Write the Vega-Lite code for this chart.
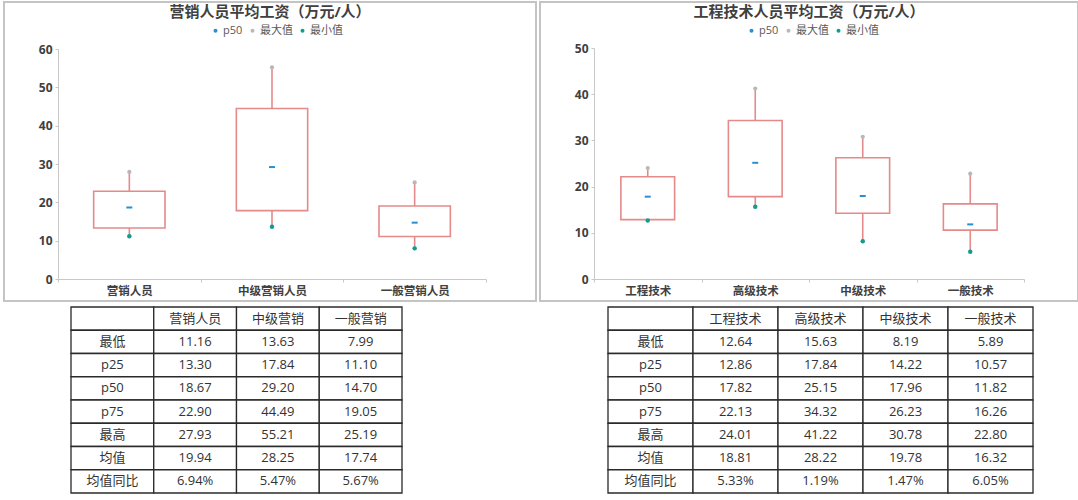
{
  "$schema": "https://vega.github.io/schema/vega-lite/v6.json",
  "padding": {"left": 3, "top": 1, "right": 0, "bottom": 0},
  "background": "white",
  "config": {
    "font": "Open Sans, Noto Sans CJK SC",
    "axis": {"grid": false, "title": null, "domainColor": "#c8c8c8", "tickColor": "#c8c8c8", "tickSize": 3, "labelColor": "#404040", "labelFontWeight": "bold"},
    "axisY": {"labelFontSize": 12, "labelPadding": 3},
    "axisX": {"labelFontSize": 11.5, "labelPadding": 3, "labelAngle": 0, "tickBand": "extent"},
    "legend": {"orient": "none", "direction": "horizontal", "title": null, "symbolType": "circle", "symbolSize": 16, "labelFontSize": 11, "labelColor": "#595959", "columnPadding": 4, "labelOffset": 2}
  },
  "datasets": {
    "mkt": [
      {"cat": "营销人员", "min": 11.16, "p25": 13.30, "p50": 18.67, "p75": 22.90, "max": 27.93},
      {"cat": "中级营销人员", "min": 13.63, "p25": 17.84, "p50": 29.20, "p75": 44.49, "max": 55.21},
      {"cat": "一般营销人员", "min": 7.99, "p25": 11.10, "p50": 14.70, "p75": 19.05, "max": 25.19}
    ],
    "eng": [
      {"cat": "工程技术", "min": 12.64, "p25": 12.86, "p50": 17.82, "p75": 22.13, "max": 24.01},
      {"cat": "高级技术", "min": 15.63, "p25": 17.84, "p50": 25.15, "p75": 34.32, "max": 41.22},
      {"cat": "中级技术", "min": 8.19, "p25": 14.22, "p50": 17.96, "p75": 26.23, "max": 30.78},
      {"cat": "一般技术", "min": 5.89, "p25": 10.57, "p50": 11.82, "p75": 16.26, "max": 22.80}
    ],
    "mktTable": [
      {"row": "表头", "项目": "", "营销人员": "营销人员", "中级营销": "中级营销", "一般营销": "一般营销"},
      {"row": "最低", "项目": "最低", "营销人员": "11.16", "中级营销": "13.63", "一般营销": "7.99"},
      {"row": "p25", "项目": "p25", "营销人员": "13.30", "中级营销": "17.84", "一般营销": "11.10"},
      {"row": "p50", "项目": "p50", "营销人员": "18.67", "中级营销": "29.20", "一般营销": "14.70"},
      {"row": "p75", "项目": "p75", "营销人员": "22.90", "中级营销": "44.49", "一般营销": "19.05"},
      {"row": "最高", "项目": "最高", "营销人员": "27.93", "中级营销": "55.21", "一般营销": "25.19"},
      {"row": "均值", "项目": "均值", "营销人员": "19.94", "中级营销": "28.25", "一般营销": "17.74"},
      {"row": "均值同比", "项目": "均值同比", "营销人员": "6.94%", "中级营销": "5.47%", "一般营销": "5.67%"}
    ],
    "engTable": [
      {"row": "表头", "项目": "", "工程技术": "工程技术", "高级技术": "高级技术", "中级技术": "中级技术", "一般技术": "一般技术"},
      {"row": "最低", "项目": "最低", "工程技术": "12.64", "高级技术": "15.63", "中级技术": "8.19", "一般技术": "5.89"},
      {"row": "p25", "项目": "p25", "工程技术": "12.86", "高级技术": "17.84", "中级技术": "14.22", "一般技术": "10.57"},
      {"row": "p50", "项目": "p50", "工程技术": "17.82", "高级技术": "25.15", "中级技术": "17.96", "一般技术": "11.82"},
      {"row": "p75", "项目": "p75", "工程技术": "22.13", "高级技术": "34.32", "中级技术": "26.23", "一般技术": "16.26"},
      {"row": "最高", "项目": "最高", "工程技术": "24.01", "高级技术": "41.22", "中级技术": "30.78", "一般技术": "22.80"},
      {"row": "均值", "项目": "均值", "工程技术": "18.81", "高级技术": "28.22", "中级技术": "19.78", "一般技术": "16.32"},
      {"row": "均值同比", "项目": "均值同比", "工程技术": "5.33%", "高级技术": "1.19%", "中级技术": "1.47%", "一般技术": "6.05%"}
    ]
  },
  "spacing": 4,
  "vconcat": [
    {
      "bounds": "flush",
      "spacing": 4,
      "resolve": {"scale": {"color": "independent"}, "legend": {"color": "independent"}},
      "hconcat": [
        {
          "width": 532,
          "height": 299,
          "view": {"stroke": "#c4c4c4", "strokeWidth": 2},
          "title": {"text": "营销人员平均工资（万元/人）", "fontSize": 15, "fontWeight": "bold", "color": "#404040", "anchor": "middle", "frame": "group", "offset": -18},
          "data": {"name": "mkt"},
          "encoding": {
            "x": {"field": "cat", "type": "nominal", "sort": null, "scale": {"range": [54, 482], "paddingInner": 0, "paddingOuter": 0}, "axis": {"offset": -22}}
          },
          "layer": [
            {"mark": {"type": "rule", "color": "#e58a8a", "strokeWidth": 1.6},
             "encoding": {"y": {"field": "min", "type": "quantitative", "scale": {"domain": [0, 60], "range": [277, 47], "nice": false, "zero": true}, "axis": {"offset": -54, "values": [0, 10, 20, 30, 40, 50, 60]}}, "y2": {"field": "max"}}},
            {"mark": {"type": "bar", "width": {"band": 0.5}, "fill": "white", "stroke": "#e58a8a", "strokeWidth": 1.6},
             "encoding": {"y": {"field": "p25", "type": "quantitative"}, "y2": {"field": "p75"}}},
            {"mark": {"type": "tick", "orient": "horizontal", "size": 6, "thickness": 2, "opacity": 1},
             "encoding": {"y": {"field": "p50", "type": "quantitative"}, "color": {"datum": "p50", "type": "nominal", "scale": {"domain": ["p50", "最大值", "最小值"], "range": ["#2a8fcf", "#b8b8b8", "#0e9e8c"]}, "legend": {"legendX": 206, "legendY": 23}}}},
            {"mark": {"type": "point", "filled": true, "size": 18, "opacity": 1},
             "encoding": {"y": {"field": "max", "type": "quantitative"}, "color": {"datum": "最大值", "type": "nominal"}}},
            {"mark": {"type": "point", "filled": true, "size": 20, "opacity": 1},
             "encoding": {"y": {"field": "min", "type": "quantitative"}, "color": {"datum": "最小值", "type": "nominal"}}}
          ]
        },
        {
          "width": 538,
          "height": 299,
          "view": {"stroke": "#c4c4c4", "strokeWidth": 2},
          "title": {"text": "工程技术人员平均工资（万元/人）", "fontSize": 15, "fontWeight": "bold", "color": "#404040", "anchor": "middle", "frame": "group", "offset": -18},
          "data": {"name": "eng"},
          "encoding": {
            "x": {"field": "cat", "type": "nominal", "sort": null, "scale": {"range": [54, 484], "paddingInner": 0, "paddingOuter": 0}, "axis": {"offset": -22}}
          },
          "layer": [
            {"mark": {"type": "rule", "color": "#e58a8a", "strokeWidth": 1.6},
             "encoding": {"y": {"field": "min", "type": "quantitative", "scale": {"domain": [0, 50], "range": [277, 46], "nice": false, "zero": true}, "axis": {"offset": -54, "values": [0, 10, 20, 30, 40, 50]}}, "y2": {"field": "max"}}},
            {"mark": {"type": "bar", "width": {"band": 0.5}, "fill": "white", "stroke": "#e58a8a", "strokeWidth": 1.6},
             "encoding": {"y": {"field": "p25", "type": "quantitative"}, "y2": {"field": "p75"}}},
            {"mark": {"type": "tick", "orient": "horizontal", "size": 6, "thickness": 2, "opacity": 1},
             "encoding": {"y": {"field": "p50", "type": "quantitative"}, "color": {"datum": "p50", "type": "nominal", "scale": {"domain": ["p50", "最大值", "最小值"], "range": ["#2a8fcf", "#b8b8b8", "#0e9e8c"]}, "legend": {"legendX": 206, "legendY": 23}}}},
            {"mark": {"type": "point", "filled": true, "size": 18, "opacity": 1},
             "encoding": {"y": {"field": "max", "type": "quantitative"}, "color": {"datum": "最大值", "type": "nominal"}}},
            {"mark": {"type": "point", "filled": true, "size": 20, "opacity": 1},
             "encoding": {"y": {"field": "min", "type": "quantitative"}, "color": {"datum": "最小值", "type": "nominal"}}}
          ]
        }
      ]
    },
    {
      "bounds": "flush",
      "spacing": 4,
      "hconcat": [
        {
          "width": 532,
          "height": 186,
          "view": {"stroke": null},
          "data": {"name": "mktTable"},
          "transform": [{"fold": ["项目", "营销人员", "中级营销", "一般营销"], "as": ["col", "val"]}],
          "encoding": {
            "x": {"field": "col", "type": "nominal", "scale": {"domain": ["项目", "营销人员", "中级营销", "一般营销"], "range": [67, 398], "paddingInner": 0, "paddingOuter": 0}, "axis": null},
            "y": {"field": "row", "type": "nominal", "scale": {"domain": ["表头", "最低", "p25", "p50", "p75", "最高", "均值", "均值同比"], "paddingInner": 0, "paddingOuter": 0}, "axis": null}
          },
          "layer": [
            {"mark": {"type": "rect", "fill": "white", "stroke": "#2a2a2a", "strokeWidth": 1.3}},
            {"mark": {"type": "text", "fontSize": 13, "color": "#333333"}, "encoding": {"text": {"field": "val"}}}
          ]
        },
        {
          "width": 538,
          "height": 186,
          "view": {"stroke": null},
          "data": {"name": "engTable"},
          "transform": [{"fold": ["项目", "工程技术", "高级技术", "中级技术", "一般技术"], "as": ["col", "val"]}],
          "encoding": {
            "x": {"field": "col", "type": "nominal", "scale": {"domain": ["项目", "工程技术", "高级技术", "中级技术", "一般技术"], "range": [68, 493], "paddingInner": 0, "paddingOuter": 0}, "axis": null},
            "y": {"field": "row", "type": "nominal", "scale": {"domain": ["表头", "最低", "p25", "p50", "p75", "最高", "均值", "均值同比"], "paddingInner": 0, "paddingOuter": 0}, "axis": null}
          },
          "layer": [
            {"mark": {"type": "rect", "fill": "white", "stroke": "#2a2a2a", "strokeWidth": 1.3}},
            {"mark": {"type": "text", "fontSize": 13, "color": "#333333"}, "encoding": {"text": {"field": "val"}}}
          ]
        }
      ]
    }
  ]
}
